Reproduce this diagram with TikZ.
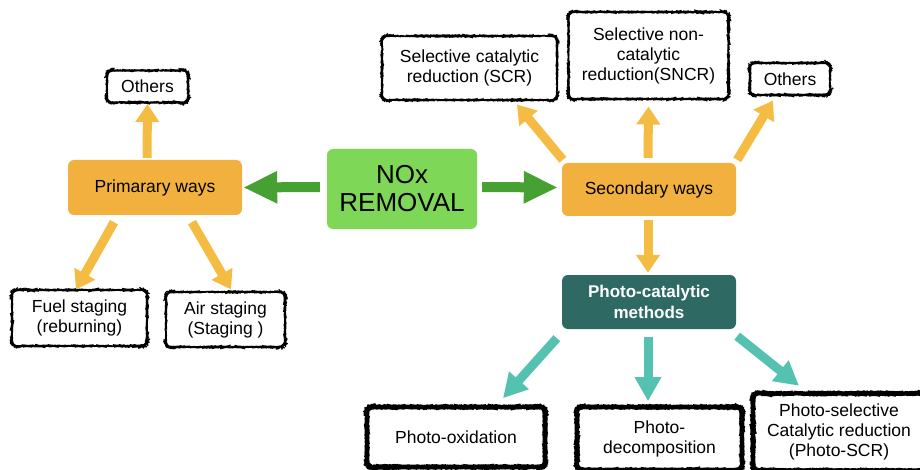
\documentclass[tikz,border=0pt]{standalone}
\usepackage{fontspec}
\setmainfont{Liberation Sans}
\usetikzlibrary{arrows.meta,decorations.pathmorphing}
\definecolor{boxorange}{HTML}{F2B13E}
\definecolor{boxgreen}{HTML}{7ED757}
\definecolor{boxteal}{HTML}{2E6A63}
\definecolor{arrorange}{HTML}{F4BC42}
\definecolor{arrgreen}{HTML}{47A132}
\definecolor{arrteal}{HTML}{55C2B1}
\tikzset{
  rough/.style={decorate,decoration={random steps,segment length=1.2pt,amplitude=0.2pt}},
  leaf/.style={draw=black,line width=1.1pt,rounded corners=6pt,rough,fill=white,align=center,inner sep=2pt},
  thickleaf/.style={leaf,line width=3.6pt},
  way/.style={fill=boxorange,rounded corners=6pt,align=center},
  oarrow/.style={arrorange,line width=9pt,-{Triangle[width=23pt,length=18pt]}},
  garrow/.style={arrgreen,line width=10pt,-{Triangle[width=30pt,length=34pt]}},
  tarrow/.style={arrteal,line width=9pt,-{Triangle[width=25pt,length=24pt]}}
}
\begin{document}
\begin{tikzpicture}[x=1pt,y=-1pt,font=\fontsize{17.5}{20}\selectfont]
  \useasboundingbox (0,0) rectangle (920,470);
  % Centre
  \node [fill=boxgreen,rounded corners=6pt,align=center,minimum width=150pt,minimum height=80pt,font=\fontsize{26}{28}\selectfont] (nox) at (402,189) {NOx\\REMOVAL};
  % Primary ways
  \node [way,minimum width=174pt,minimum height=55pt] (prim) at (155,187.5) {Primarary ways};
  \node [leaf,minimum width=81pt,minimum height=32pt] (oth1) at (147.5,86.5) {Others};
  \node [leaf,minimum width=135pt,minimum height=56pt] (fuel) at (79.5,318) {Fuel staging\\(reburning)};
  \node [leaf,minimum width=119pt,minimum height=55pt] (air) at (225.5,319.5) {Air staging\\(Staging )};
  % Secondary ways
  \node [way,minimum width=174pt,minimum height=53pt] (sec) at (649,189.5) {Secondary ways};
  \node [leaf,minimum width=175pt,minimum height=64pt] (scr) at (469.5,68) {Selective catalytic\\reduction (SCR)};
  \node [leaf,minimum width=160pt,minimum height=87pt] (sncr) at (648.5,55.5) {Selective non-\\catalytic\\reduction(SNCR)};
  \node [leaf,minimum width=80pt,minimum height=32pt] (oth2) at (790,79) {Others};
  % Photo-catalytic methods
  \node [fill=boxteal,text=white,rounded corners=6pt,align=center,minimum width=174pt,minimum height=54pt,font=\fontsize{17}{21}\selectfont\bfseries] (photo) at (649,302) {Photo-catalytic\\methods};
  \node [thickleaf,minimum width=178pt,minimum height=60pt] (pox) at (456,437) {Photo-oxidation};
  \node [thickleaf,minimum width=165pt,minimum height=63pt] (pdec) at (659.5,438.5) {Photo-\\decomposition};
  \node [thickleaf,minimum width=172pt,minimum height=77pt] (psel) at (839,432) {Photo-selective\\Catalytic reduction\\(Photo-SCR)};
  % Arrows
  \draw [garrow] ([shift={(-7,-2)}]nox.west) -- ([shift={(1,0)}]prim.east);
  \draw [garrow] ([shift={(5,-2)}]nox.east) -- ([shift={(-4,-2)}]sec.west);
  \draw [oarrow] ([shift={(-8,-2)}]prim.north) -- ([shift={(0,1)}]oth1.south);
  \draw [oarrow] ([shift={(-41,7)}]prim.south) -- ([shift={(-3.5,0)}]fuel.north);
  \draw [oarrow] ([shift={(37,7)}]prim.south) -- ([shift={(5.5,-2)}]air.north);
  \draw [oarrow] ([shift={(1,-3)}]sec.north west) -- ([shift={(47.5,4)}]scr.south);
  \draw [oarrow] ([shift={(-1,-5)}]sec.north) -- ([shift={(0,7)}]sncr.south);
  \draw [oarrow] ([shift={(1,-3)}]sec.north east) -- ([shift={(-17,5)}]oth2.south);
  \draw [oarrow] ([shift={(-1,4)}]sec.south) -- ([shift={(-1,-2)}]photo.north);
  \draw [tarrow] ([shift={(-5,9)}]photo.south west) -- ([shift={(47,-7)}]pox.north);
  \draw [tarrow] ([shift={(-1,8)}]photo.south) -- ([shift={(-11.5,-4)}]pdec.north);
  \draw [tarrow] ([shift={(1,7)}]photo.south east) -- ([shift={(-40,-6)}]psel.north);
\end{tikzpicture}
\end{document}
